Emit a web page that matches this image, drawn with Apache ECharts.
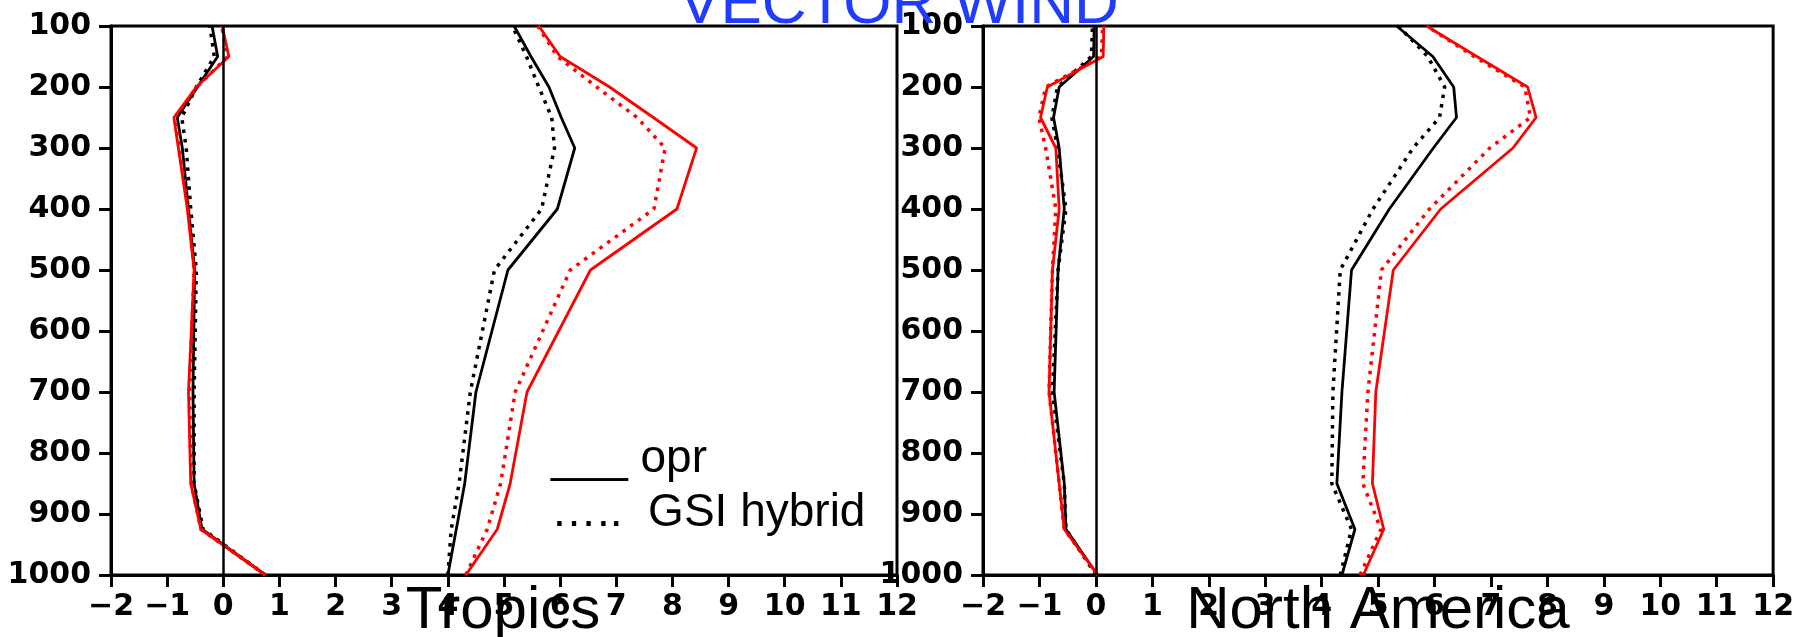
<!DOCTYPE html>
<html>
<head>
<meta charset="utf-8">
<script src="https://cdn.jsdelivr.net/npm/echarts@6/dist/echarts.min.js"></script>
<style>
html,body{margin:0;padding:0;background:#fff;}
#chart{width:1797px;height:637px;}
</style>
</head>
<body>
<div id="chart"></div>
<script>
// Pressure levels (hPa)
const levels = [1000, 925, 850, 700, 500, 400, 300, 250, 200, 150, 100];

// Tick labels
const xTickLabels = ['\u22122','\u22121','0','1','2','3','4','5','6','7','8','9','10','11','12'];
const xTickValues = [-2,-1,0,1,2,3,4,5,6,7,8,9,10,11,12];
const yTickLabels = ['100','200','300','400','500','600','700','800','900','1000'];

// Panel titles / legend
const panelNames = ['Tropics', 'North America'];
const titleText = 'VECTOR WIND';
const legendSolid = '___ opr';
const legendDotted = '\u2026..  GSI hybrid';

// Tropics: bias (left group) and rms (right group)
const tropBiasOprBlack = [0.75, -0.38, -0.52, -0.54, -0.51, -0.62, -0.73, -0.82, -0.46, -0.10, -0.20];
const tropBiasHybBlack = [0.75, -0.36, -0.52, -0.52, -0.48, -0.58, -0.66, -0.74, -0.48, -0.16, -0.24];
const tropBiasOprRed   = [0.75, -0.40, -0.58, -0.62, -0.52, -0.64, -0.80, -0.88, -0.48, 0.10, -0.02];
const tropBiasHybRed   = [0.75, -0.40, -0.57, -0.60, -0.52, -0.62, -0.78, -0.86, -0.47, 0.08, -0.03];
const tropRmsOprBlack  = [4.00, 4.15, 4.30, 4.50, 5.07, 5.95, 6.26, 6.02, 5.80, 5.48, 5.18];
const tropRmsHybBlack  = [4.00, 4.06, 4.20, 4.40, 4.83, 5.67, 5.90, 5.85, 5.62, 5.40, 5.15];
const tropRmsOprRed    = [4.32, 4.88, 5.11, 5.41, 6.54, 8.08, 8.43, 7.66, 6.88, 6.00, 5.62];
const tropRmsHybRed    = [4.32, 4.70, 4.94, 5.20, 6.18, 7.67, 7.87, 7.37, 6.65, 5.95, 5.60];

// North America: bias and rms
const naBiasOprBlack = [0.03, -0.53, -0.56, -0.74, -0.67, -0.56, -0.65, -0.75, -0.65, -0.04, -0.03];
const naBiasHybBlack = [0.00, -0.53, -0.56, -0.77, -0.67, -0.53, -0.68, -0.78, -0.68, -0.08, -0.06];
const naBiasOprRed   = [0.03, -0.56, -0.65, -0.83, -0.77, -0.65, -0.71, -0.98, -0.86, 0.13, 0.14];
const naBiasHybRed   = [0.03, -0.56, -0.65, -0.83, -0.77, -0.71, -0.89, -1.01, -0.89, 0.10, 0.12];
const naRmsOprBlack  = [4.36, 4.59, 4.27, 4.36, 4.53, 5.20, 5.98, 6.39, 6.34, 5.97, 5.33];
const naRmsHybBlack  = [4.33, 4.53, 4.18, 4.20, 4.33, 4.91, 5.62, 6.09, 6.18, 5.88, 5.36];
const naRmsOprRed    = [4.74, 5.10, 4.90, 4.96, 5.27, 6.11, 7.39, 7.80, 7.65, 6.75, 5.86];
const naRmsHybRed    = [4.68, 5.05, 4.73, 4.82, 5.06, 5.91, 6.98, 7.70, 7.60, 6.70, 5.86];

const chart = echarts.init(document.getElementById('chart'), null, {renderer: 'canvas'});

const tickFont = 'DejaVu Sans';
function pairs(vals) { return vals.map((v, i) => [v, levels[i]]); }

function xAxisCfg(gi) {
  return {
    type: 'value', gridIndex: gi, min: -2, max: 12, interval: 1,
    axisLine: {show: true, onZero: false, lineStyle: {color: '#000', width: 3}},
    axisTick: {show: true, inside: false, length: 12, lineStyle: {color: '#000', width: 3}},
    axisLabel: {
      color: '#000', fontFamily: tickFont, fontWeight: 'bold', fontSize: 30, margin: 17,
      formatter: v => { const k = xTickValues.indexOf(v); return k >= 0 ? xTickLabels[k] : ''; }
    },
    splitLine: {show: false}
  };
}
function yAxisCfg(gi) {
  return {
    type: 'value', gridIndex: gi, min: 100, max: 1000, interval: 100, inverse: true,
    axisLine: {show: true, onZero: false, lineStyle: {color: '#000', width: 3}},
    axisTick: {show: true, inside: false, length: 12, lineStyle: {color: '#000', width: 3}},
    axisLabel: {
      color: '#000', fontFamily: tickFont, fontWeight: 'bold', fontSize: 30, margin: 20,
      formatter: v => { const k = Math.round(v / 100) - 1; return yTickLabels[k] !== undefined ? yTickLabels[k] : ''; }
    },
    splitLine: {show: false}
  };
}

function lineSeries(name, gi, vals, color, dotted, extra) {
  const s = {
    name: name, type: 'line', xAxisIndex: gi, yAxisIndex: gi,
    data: pairs(vals), symbol: 'none', smooth: false, animation: false,
    lineStyle: dotted
      ? {color: color, width: 3.5, type: [3.5, 6], cap: 'butt'}
      : {color: color, width: 2.8, type: 'solid'},
    z: color === '#000000' ? 3 : 4
  };
  return Object.assign(s, extra || {});
}

const zeroMark = {
  markLine: {
    silent: true, symbol: ['none', 'none'], label: {show: false},
    lineStyle: {color: '#000', width: 2.5, type: 'solid'},
    data: [{xAxis: 0}], animation: false
  }
};

const BLACK = '#000000', RED = '#ff0000';

const option = {
  backgroundColor: '#ffffff',
  animation: false,
  grid: [
    {left: 111, top: 26, width: 786, height: 549, show: true, borderColor: '#000', borderWidth: 3},
    {left: 983, top: 26, width: 793, height: 549, show: true, borderColor: '#000', borderWidth: 3}
  ],
  xAxis: [xAxisCfg(0), xAxisCfg(1)],
  yAxis: [yAxisCfg(0), yAxisCfg(1)],
  series: [
    lineSeries('Tropics bias opr (black)', 0, tropBiasOprBlack, BLACK, false, zeroMark),
    lineSeries('Tropics bias GSI hybrid (black)', 0, tropBiasHybBlack, BLACK, true),
    lineSeries('Tropics rms opr (black)', 0, tropRmsOprBlack, BLACK, false),
    lineSeries('Tropics rms GSI hybrid (black)', 0, tropRmsHybBlack, BLACK, true),
    lineSeries('Tropics bias opr (red)', 0, tropBiasOprRed, RED, false),
    lineSeries('Tropics bias GSI hybrid (red)', 0, tropBiasHybRed, RED, true),
    lineSeries('Tropics rms opr (red)', 0, tropRmsOprRed, RED, false),
    lineSeries('Tropics rms GSI hybrid (red)', 0, tropRmsHybRed, RED, true),

    lineSeries('North America bias opr (black)', 1, naBiasOprBlack, BLACK, false, zeroMark),
    lineSeries('North America bias GSI hybrid (black)', 1, naBiasHybBlack, BLACK, true),
    lineSeries('North America rms opr (black)', 1, naRmsOprBlack, BLACK, false),
    lineSeries('North America rms GSI hybrid (black)', 1, naRmsHybBlack, BLACK, true),
    lineSeries('North America bias opr (red)', 1, naBiasOprRed, RED, false),
    lineSeries('North America bias GSI hybrid (red)', 1, naBiasHybRed, RED, true),
    lineSeries('North America rms opr (red)', 1, naRmsOprRed, RED, false),
    lineSeries('North America rms GSI hybrid (red)', 1, naRmsHybRed, RED, true)
  ],
  graphic: [
    {type: 'text', z: 1, style: {text: titleText, x: 899, y: 6, align: 'center', verticalAlign: 'middle',
      font: '62px "Liberation Sans"', fill: '#1f3cff'}},
    {type: 'text', z: 10, style: {text: panelNames[0], x: 503, y: 611, align: 'center', verticalAlign: 'middle',
      font: '60px "Liberation Sans"', fill: '#000'}},
    {type: 'text', z: 10, style: {text: panelNames[1], x: 1378, y: 611, align: 'center', verticalAlign: 'middle',
      font: '60px "Liberation Sans"', fill: '#000'}},
    {type: 'text', z: 10, style: {text: legendSolid, x: 551, y: 459, align: 'left', verticalAlign: 'middle',
      font: '46px "Liberation Sans"', fill: '#000'}},
    {type: 'text', z: 10, style: {text: legendDotted, x: 551, y: 513, align: 'left', verticalAlign: 'middle',
      font: '46px "Liberation Sans"', fill: '#000'}}
  ]
};

chart.setOption(option);
</script>
</body>
</html>
